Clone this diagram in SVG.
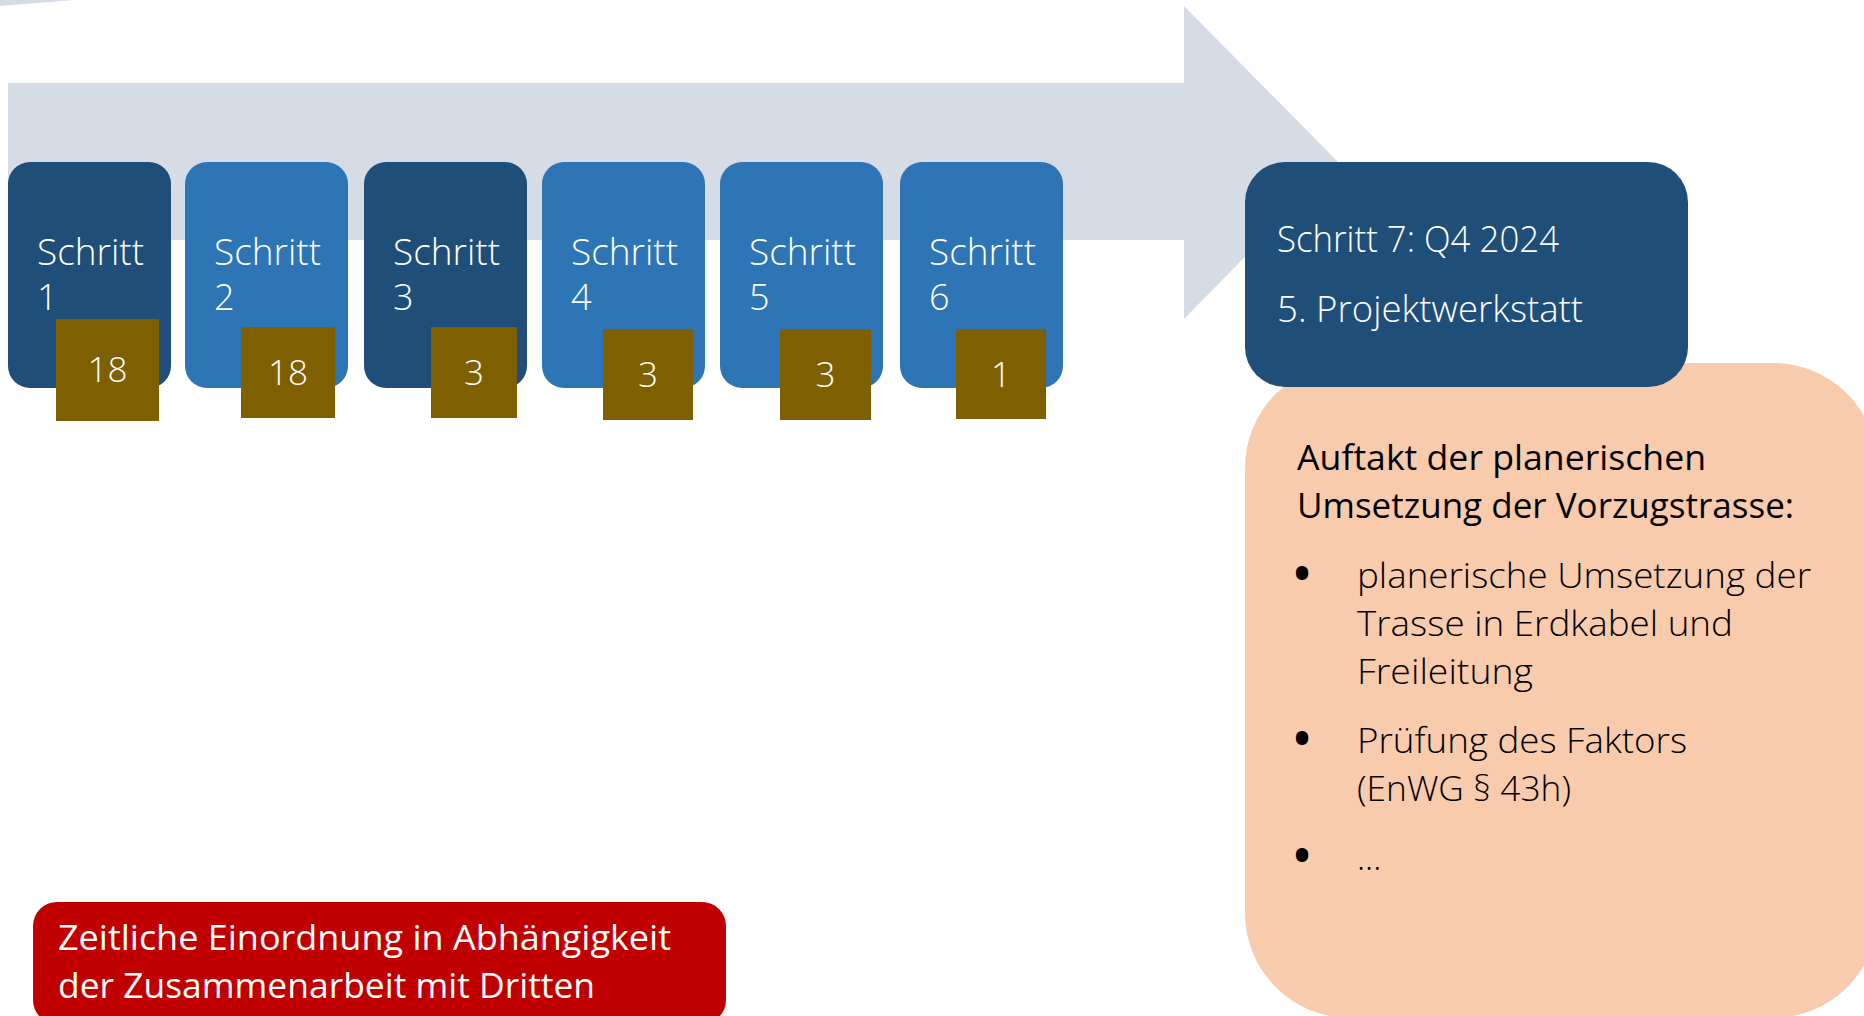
<svg xmlns="http://www.w3.org/2000/svg" width="1864" height="1016" viewBox="0 0 1864 1016">
<style>
.dark{fill:#1F4E79}
.mid{fill:#2E75B6}
.gold{fill:#7F6000}
.lbl{font-family:"Open Sans",Roboto,"Liberation Sans",sans-serif;font-weight:300;fill:#FFFFFF;font-size:36px}
.num{font-family:"Open Sans",Roboto,"Liberation Sans",sans-serif;font-weight:300;fill:#FFFFFF;font-size:35px;text-anchor:middle}
.body{font-family:"Open Sans",Roboto,"Liberation Sans",sans-serif;font-weight:300;fill:#000000;font-size:34px}
.bul{font-family:"Open Sans",Roboto,"Liberation Sans",sans-serif;font-weight:700;fill:#000000;font-size:44px;text-anchor:middle}
.head{font-family:"Open Sans",Roboto,"Liberation Sans",sans-serif;font-weight:400;fill:#000000;font-size:35px}
.red{font-family:"Open Sans",Roboto,"Liberation Sans",sans-serif;font-weight:400;fill:#FFFFFF;font-size:35px}
</style>
<rect width="1864" height="1016" fill="#FFFFFF"/>
<polygon points="0,0 74,0 0,6" fill="#D6DCE5"/>
<g id="arrow">
<polygon points="8,83 1184,83 1184,6 1338,162 1184,319 1184,240 8,240" fill="#D6DCE5"/>
</g>
<g id="peach-box">
<rect x="1245" y="363" width="633" height="655" rx="105" ry="105" fill="#F8CBAD"/>
<text class="head" x="1297" y="470" textLength="409" lengthAdjust="spacingAndGlyphs">Auftakt der planerischen</text>
<text class="head" x="1297" y="518" textLength="497" lengthAdjust="spacingAndGlyphs">Umsetzung der Vorzugstrasse:</text>
<text class="bul" x="1302" y="589">•</text>
<text class="body" x="1357" y="588" textLength="454" lengthAdjust="spacingAndGlyphs">planerische Umsetzung der</text>
<text class="body" x="1357" y="636" textLength="376" lengthAdjust="spacingAndGlyphs">Trasse in Erdkabel und</text>
<text class="body" x="1357" y="684" textLength="176" lengthAdjust="spacingAndGlyphs">Freileitung</text>
<text class="bul" x="1302" y="754">•</text>
<text class="body" x="1357" y="753" textLength="330" lengthAdjust="spacingAndGlyphs">Prüfung des Faktors</text>
<text class="body" x="1357" y="801" textLength="214" lengthAdjust="spacingAndGlyphs">(EnWG § 43h)</text>
<text class="bul" x="1302" y="871">•</text>
<text class="body" x="1357" y="870">...</text>
</g>
<g id="schritt1">
<rect class="dark" x="8" y="162" width="163" height="226" rx="22"/>
<text class="lbl" x="37" y="265" textLength="107" lengthAdjust="spacingAndGlyphs">Schritt</text>
<text class="lbl" x="37" y="310">1</text>
<rect class="gold" x="56" y="319" width="103" height="102"/>
<text class="num" x="107.5" y="382">18</text>
</g>
<g id="schritt2">
<rect class="mid" x="185" y="162" width="163" height="226" rx="22"/>
<text class="lbl" x="214" y="265" textLength="107" lengthAdjust="spacingAndGlyphs">Schritt</text>
<text class="lbl" x="214" y="310">2</text>
<rect class="gold" x="241" y="327" width="94" height="91"/>
<text class="num" x="288" y="385">18</text>
</g>
<g id="schritt3">
<rect class="dark" x="364" y="162" width="163" height="226" rx="22"/>
<text class="lbl" x="393" y="265" textLength="107" lengthAdjust="spacingAndGlyphs">Schritt</text>
<text class="lbl" x="393" y="310">3</text>
<rect class="gold" x="431" y="327" width="86" height="91"/>
<text class="num" x="474" y="385">3</text>
</g>
<g id="schritt4">
<rect class="mid" x="542" y="162" width="163" height="226" rx="22"/>
<text class="lbl" x="571" y="265" textLength="107" lengthAdjust="spacingAndGlyphs">Schritt</text>
<text class="lbl" x="571" y="310">4</text>
<rect class="gold" x="603" y="329" width="90" height="91"/>
<text class="num" x="648" y="387">3</text>
</g>
<g id="schritt5">
<rect class="mid" x="720" y="162" width="163" height="226" rx="22"/>
<text class="lbl" x="749" y="265" textLength="107" lengthAdjust="spacingAndGlyphs">Schritt</text>
<text class="lbl" x="749" y="310">5</text>
<rect class="gold" x="780" y="329" width="91" height="91"/>
<text class="num" x="825.5" y="387">3</text>
</g>
<g id="schritt6">
<rect class="mid" x="900" y="162" width="163" height="226" rx="22"/>
<text class="lbl" x="929" y="265" textLength="107" lengthAdjust="spacingAndGlyphs">Schritt</text>
<text class="lbl" x="929" y="310">6</text>
<rect class="gold" x="956" y="329" width="90" height="90"/>
<text class="num" x="1001" y="387">1</text>
</g>
<g id="schritt7">
<rect class="dark" x="1245" y="162" width="443" height="225" rx="40"/>
<text class="lbl" x="1277" y="252" textLength="282" lengthAdjust="spacingAndGlyphs">Schritt 7: Q4 2024</text>
<text class="lbl" x="1277" y="322" textLength="306" lengthAdjust="spacingAndGlyphs">5. Projektwerkstatt</text>
</g>
<g id="note">
<rect x="33" y="902" width="693" height="122" rx="24" fill="#C00000"/>
<text class="red" x="58" y="950" textLength="613" lengthAdjust="spacingAndGlyphs">Zeitliche Einordnung in Abhängigkeit</text>
<text class="red" x="58" y="998" textLength="537" lengthAdjust="spacingAndGlyphs">der Zusammenarbeit mit Dritten</text>
</g>
</svg>
